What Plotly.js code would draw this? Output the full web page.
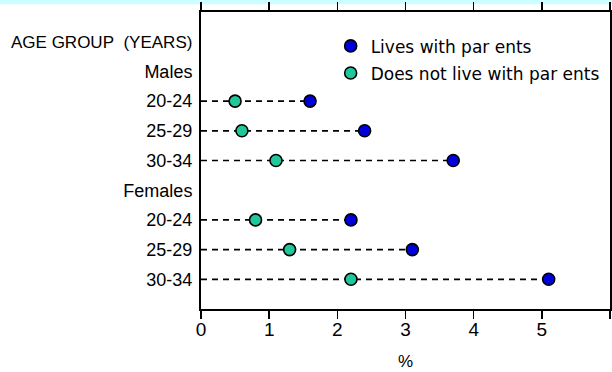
<!DOCTYPE html>
<html>
<head>
<meta charset="utf-8">
<script src="https://cdn.plot.ly/plotly-3.0.1.min.js"></script>
<style>
html,body{margin:0;padding:0;background:#fff;}
#chart{width:612px;height:372px;}
</style>
</head>
<body>
<div id="chart"></div>
<script>
// Row labels, top to bottom
const rowLabels = ["AGE GROUP\u00A0\u00A0(YEARS)", "Males", "20-24", "25-29", "30-34", "Females", "20-24", "25-29", "30-34"];
// Data rows (top to bottom) and their row positions
const dataRows = ["Males 20-24", "Males 25-29", "Males 30-34", "Females 20-24", "Females 25-29", "Females 30-34"];
const dataRowPos = [7, 6, 5, 3, 2, 1];
const livesWithParents = [1.6, 2.4, 3.7, 2.2, 3.1, 5.1];
const notLiveWithParents = [0.5, 0.6, 1.1, 0.8, 1.3, 2.2];
const seriesNames = ["Lives with par\u00A0ents", "Does not live with par\u00A0ents"];
const xTicks = [0, 1, 2, 3, 4, 5, 6];

const rowPos = rowLabels.map((_, i) => rowLabels.length - i);
const rowText = rowLabels.map((t, i) => i === 0 ? '<span style="font-size:17px">' + t + '</span>' : t);

// dashed guide lines from 0 to the row maximum
const lx = [], ly = [];
dataRowPos.forEach((p, i) => {
  lx.push(0, Math.max(livesWithParents[i], notLiveWithParents[i]), null);
  ly.push(p, p, null);
});

const traces = [
  {x: lx, y: ly, mode: 'lines', showlegend: false, hoverinfo: 'skip',
   line: {color: '#000', width: 1.7, dash: '6px,5px'}},
  {x: livesWithParents, y: dataRowPos, mode: 'markers', name: seriesNames[0], legendgroup: 'a',
   marker: {size: 12, color: '#0000dd', line: {color: '#000', width: 1.6}}},
  {x: notLiveWithParents, y: dataRowPos, mode: 'markers', name: seriesNames[1], legendgroup: 'b',
   marker: {size: 12, color: '#1fc79a', line: {color: '#000', width: 1.6}}}
];

const layout = {
  width: 612, height: 372,
  margin: {l: 201, r: 2, t: 12, b: 63},
  paper_bgcolor: '#fff', plot_bgcolor: '#fff',
  font: {family: 'Liberation Sans, Arial, sans-serif', color: '#000', size: 18},
  showlegend: true,
  legend: {x: 0.317, y: 0.945, xanchor: 'left', yanchor: 'top',
    bgcolor: 'rgba(0,0,0,0)', tracegroupgap: 2, itemsizing: 'trace',
    font: {family: 'DejaVu Sans, sans-serif', size: 17, color: '#000'}},
  xaxis: {
    range: [0, 6], tickvals: xTicks, ticktext: xTicks.map(String),
    showgrid: false, zeroline: false,
    showline: true, linecolor: '#000', linewidth: 2, mirror: 'ticks',
    ticks: 'outside', ticklen: 8, tickwidth: 1.5, tickcolor: '#000',
    ticklabelstandoff: -6,
    tickfont: {size: 19, family: 'Liberation Sans, Arial, sans-serif'},
    title: {text: '%', font: {size: 17}, standoff: 16},
    fixedrange: true
  },
  yaxis: {
    range: [0, 10], tickvals: rowPos, ticktext: rowText,
    showgrid: false, zeroline: false,
    showline: true, linecolor: '#000', linewidth: 2, mirror: true,
    ticks: '', ticklabelstandoff: 3,
    tickfont: {size: 18, family: 'Liberation Sans, Arial, sans-serif'},
    fixedrange: true
  },
  shapes: [
    {type: 'rect', xref: 'paper', yref: 'paper', x0: -1, x1: 2, y0: 1.026, y1: 1.2,
     fillcolor: '#ccffff', line: {width: 0}, layer: 'below'}
  ]
};

Plotly.newPlot('chart', traces, layout, {displayModeBar: false, staticPlot: true});
</script>
</body>
</html>
